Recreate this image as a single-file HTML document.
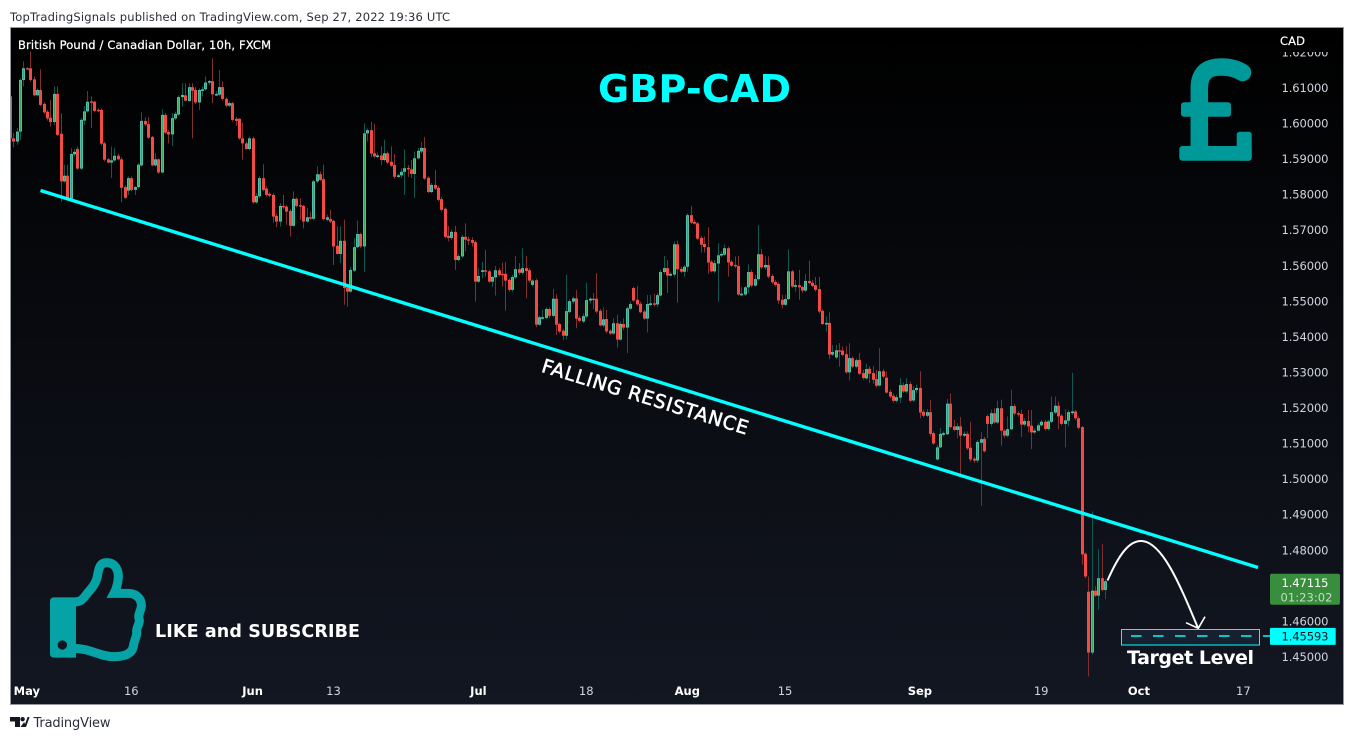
<!DOCTYPE html>
<html lang="en">
<head>
<meta charset="utf-8">
<title>GBP-CAD chart</title>
<style>
html,body{margin:0;padding:0;background:#fff;width:1354px;height:740px;overflow:hidden}
svg{display:block}
text{font-family:"DejaVu Sans","Liberation Sans",sans-serif}
</style>
</head>
<body>
<svg id="chart" xmlns="http://www.w3.org/2000/svg" width="1354" height="740" viewBox="0 0 1354 740">
  <defs>
    <linearGradient id="bgGrad" x1="0" y1="0" x2="0" y2="1">
      <stop offset="0" stop-color="#000000"/>
      <stop offset="1" stop-color="#131722"/>
    </linearGradient>
    <clipPath id="plotClip"><rect x="11" y="28" width="1250" height="650"/></clipPath>
    <clipPath id="axisClip"><rect x="1270" y="52" width="72" height="625"/></clipPath>
  </defs>
  <text x="10" y="21" font-size="11.5" fill="#2a2e39" textLength="440">TopTradingSignals published on TradingView.com, Sep 27, 2022 19:36 UTC</text>
  <rect x="10.5" y="27.5" width="1333" height="677" fill="url(#bgGrad)" stroke="#9598a1" stroke-width="1"/>
  <g id="grid" clip-path="url(#plotClip)"></g>
  <line x1="40.5" y1="190.5" x2="1258" y2="567.5" stroke="#00ffff" stroke-width="3.4"/>
  <text transform="translate(540.5 371.5) rotate(17.1)" font-size="19" fill="#ffffff" stroke="#ffffff" stroke-width="0.55" textLength="215">FALLING RESISTANCE</text>
  <text x="18" y="49" font-size="11.5" fill="#ffffff" stroke="#ffffff" stroke-width="0.25" textLength="253">British Pound / Canadian Dollar, 10h, FXCM</text>
  <text x="598" y="102" font-size="38" font-weight="bold" fill="#00ffff" textLength="193">GBP-CAD</text>
  <g fill="#009999">
    <path d="M1199.3 150 L1199.3 88 C1199.3 70 1211 67 1221 67 C1230 67 1237 69 1242.5 72.5" fill="none" stroke="#009999" stroke-width="17.5" stroke-linecap="round"/>
    <rect x="1181" y="102.3" width="50" height="14.4" rx="3"/>
    <rect x="1179.3" y="146" width="72.4" height="14.8" rx="3"/>
    <rect x="1236.7" y="131.7" width="15" height="29" rx="3"/>
  </g>
  <g transform="translate(0 540) scale(0.3333)">
    <path fill-rule="evenodd" fill="#05a3a6" d="M162 172 H228 V353 H162 Q150 353 150 341 V184 Q150 172 162 172 Z M187 301 A14 14 0 1 0 187 329 A14 14 0 1 0 187 301 Z"/>
    <path d="M222 186 C245 186 250 175 262 160 C275 145 288 130 292 110 C296 85 300 68 320 68 C345 68 356 90 355 112 C354 130 350 145 342 160 L385 160 C412 160 426 180 424 200 C422 215 412 225 418 240 C420 250 408 265 410 275 C412 290 402 300 400 320 C396 340 375 350 340 350 C300 350 270 325 222 325" fill="none" stroke="#05a3a6" stroke-width="27"/>
  </g>
  <text x="155" y="637" font-size="17.5" font-weight="bold" fill="#ffffff" textLength="205">LIKE and SUBSCRIBE</text>
  <path d="M1107.5 580.5 C1120 552 1130 541 1141 541 C1162 541 1180 585 1198 628" fill="none" stroke="#ffffff" stroke-width="2"/>
  <path d="M1186 622.7 L1198.3 628.3 L1205 616.7" fill="none" stroke="#ffffff" stroke-width="1.6"/>
  <rect x="1121.5" y="629.5" width="138" height="15.5" fill="#16202f" stroke="#00ffff" stroke-width="1"/>
  <line x1="1131" y1="636" x2="1270" y2="636" stroke="#00ffff" stroke-width="1.5" stroke-dasharray="10.5 11.5"/>
  <text x="1127" y="664" font-size="19" font-weight="bold" fill="#ffffff" textLength="127">Target Level</text>
  <text x="1280" y="45" font-size="11.5" fill="#ffffff" stroke="#ffffff" stroke-width="0.2" textLength="25">CAD</text>
  <g id="priceAxis" clip-path="url(#axisClip)"></g>
  <g id="timeAxis"></g>
  <g id="lastPriceTag"></g>
  <g id="targetTag"></g>
  <g>
    <path d="M10 717 H20 V727 H15 V721.5 H10 Z" fill="#131722"/>
    <circle cx="22.6" cy="719.2" r="2.2" fill="#131722"/>
    <path d="M24 727 L27.6 717 H29.6 L26 727 Z M20.6 727 L24.2 722 L26 727 Z" fill="#131722"/>
    <text x="33.5" y="727" font-size="13" fill="#2a2e39" textLength="77">TradingView</text>
  </g>
</svg>
<script>
const opens=[1.6075,1.5957,1.5948,1.5976,1.6121,1.6154,1.6154,1.6123,1.6078,1.6093,
1.6054,1.6032,1.6015,1.6003,1.6082,1.5970,1.5836,1.5852,1.5787,1.5912,
1.5927,1.5872,1.6007,1.6033,1.6061,1.6060,1.6037,1.6037,1.5943,1.5898,
1.5889,1.5895,1.5908,1.5898,1.5820,1.5810,1.5845,1.5812,1.5820,1.5881,
1.6006,1.5997,1.5961,1.5881,1.5898,1.5861,1.6023,1.5975,1.5968,1.6013,
1.6024,1.6073,1.6078,1.6062,1.6101,1.6093,1.6058,1.6092,1.6095,1.6114,
1.6118,1.6080,1.6080,1.6101,1.6068,1.6049,1.6056,1.6012,1.6012,1.5957,
1.5943,1.5927,1.5957,1.5777,1.5794,1.5845,1.5816,1.5801,1.5798,1.5739,
1.5723,1.5767,1.5765,1.5753,1.5711,1.5787,1.5769,1.5767,1.5723,1.5735,
1.5731,1.5836,1.5856,1.5842,1.5728,1.5730,1.5725,1.5655,1.5632,1.5669,
1.5538,1.5526,1.5585,1.5651,1.5688,1.5653,1.5971,1.5980,1.5915,1.5906,
1.5909,1.5896,1.5915,1.5891,1.5882,1.5849,1.5853,1.5863,1.5874,1.5870,
1.5857,1.5901,1.5920,1.5930,1.5846,1.5806,1.5826,1.5818,1.5786,1.5759,
1.5683,1.5677,1.5694,1.5615,1.5625,1.5680,1.5673,1.5671,1.5665,1.5554,
1.5582,1.5586,1.5583,1.5554,1.5566,1.5586,1.5576,1.5576,1.5559,1.5531,
1.5566,1.5589,1.5579,1.5592,1.5586,1.5545,1.5558,1.5433,1.5451,1.5452,
1.5477,1.5458,1.5506,1.5435,1.5416,1.5402,1.5469,1.5498,1.5507,1.5452,
1.5442,1.5456,1.5501,1.5506,1.5506,1.5472,1.5431,1.5449,1.5416,1.5408,
1.5437,1.5391,1.5435,1.5425,1.5478,1.5536,1.5503,1.5492,1.5470,1.5450,
1.5491,1.5493,1.5490,1.5515,1.5581,1.5592,1.5571,1.5574,1.5659,1.5590,
1.5582,1.5596,1.5741,1.5722,1.5718,1.5677,1.5660,1.5651,1.5610,1.5583,
1.5605,1.5628,1.5630,1.5648,1.5610,1.5601,1.5598,1.5518,1.5518,1.5538,
1.5581,1.5543,1.5561,1.5631,1.5594,1.5601,1.5570,1.5553,1.5548,1.5503,
1.5489,1.5505,1.5583,1.5540,1.5544,1.5539,1.5529,1.5556,1.5551,1.5544,
1.5533,1.5472,1.5435,1.5438,1.5349,1.5341,1.5361,1.5360,1.5350,1.5299,
1.5339,1.5315,1.5334,1.5297,1.5282,1.5309,1.5297,1.5280,1.5262,1.5302,
1.5284,1.5244,1.5233,1.5219,1.5228,1.5263,1.5245,1.5266,1.5220,1.5249,
1.5255,1.5188,1.5177,1.5187,1.5128,1.5054,1.5088,1.5124,1.5125,1.5211,
1.5147,1.5137,1.5147,1.5121,1.5126,1.5087,1.5056,1.5051,1.5101,1.5112,
1.5176,1.5154,1.5184,1.5158,1.5198,1.5135,1.5121,1.5139,1.5204,1.5184,
1.5182,1.5152,1.5162,1.5149,1.5130,1.5135,1.5150,1.5160,1.5140,1.5160,
1.5186,1.5205,1.5177,1.5154,1.5163,1.5186,1.5189,1.5170,1.5145,1.4789,
1.4682,1.4511,1.4685,1.4671,1.4720,1.4687];
const closes=[1.5957,1.5948,1.5976,1.6121,1.6154,1.6151,1.6121,1.6078,1.6093,1.6051,
1.6030,1.6013,1.6003,1.6082,1.5967,1.5836,1.5852,1.5787,1.5913,1.5919,
1.5872,1.6009,1.6033,1.6060,1.6058,1.6034,1.6034,1.5942,1.5897,1.5889,
1.5895,1.5908,1.5898,1.5818,1.5790,1.5845,1.5812,1.5820,1.5883,1.6006,
1.5996,1.5959,1.5881,1.5898,1.5861,1.6023,1.5973,1.5968,1.6014,1.6026,
1.6073,1.6079,1.6063,1.6101,1.6091,1.6058,1.6093,1.6095,1.6114,1.6118,
1.6081,1.6082,1.6101,1.6068,1.6049,1.6056,1.6009,1.6006,1.5957,1.5943,
1.5927,1.5957,1.5777,1.5795,1.5845,1.5812,1.5798,1.5796,1.5737,1.5723,
1.5767,1.5763,1.5751,1.5711,1.5787,1.5767,1.5766,1.5723,1.5735,1.5731,
1.5836,1.5856,1.5840,1.5730,1.5735,1.5723,1.5653,1.5632,1.5669,1.5536,
1.5526,1.5587,1.5651,1.5688,1.5653,1.5971,1.5980,1.5914,1.5906,1.5909,
1.5896,1.5915,1.5889,1.5880,1.5849,1.5853,1.5863,1.5873,1.5870,1.5857,
1.5901,1.5922,1.5930,1.5844,1.5806,1.5826,1.5816,1.5784,1.5756,1.5680,
1.5677,1.5694,1.5615,1.5626,1.5680,1.5672,1.5669,1.5663,1.5554,1.5570,
1.5586,1.5582,1.5554,1.5567,1.5586,1.5573,1.5573,1.5557,1.5531,1.5567,
1.5589,1.5579,1.5592,1.5584,1.5557,1.5557,1.5433,1.5454,1.5454,1.5477,
1.5458,1.5506,1.5433,1.5414,1.5402,1.5471,1.5499,1.5507,1.5450,1.5444,
1.5457,1.5502,1.5506,1.5503,1.5470,1.5431,1.5448,1.5414,1.5408,1.5437,
1.5391,1.5435,1.5425,1.5479,1.5491,1.5501,1.5490,1.5468,1.5450,1.5491,
1.5493,1.5489,1.5516,1.5581,1.5592,1.5571,1.5576,1.5659,1.5589,1.5582,
1.5596,1.5741,1.5720,1.5717,1.5675,1.5658,1.5651,1.5608,1.5583,1.5606,
1.5628,1.5632,1.5648,1.5608,1.5599,1.5597,1.5518,1.5520,1.5538,1.5581,
1.5543,1.5561,1.5631,1.5594,1.5601,1.5568,1.5552,1.5545,1.5501,1.5489,
1.5505,1.5583,1.5540,1.5544,1.5538,1.5529,1.5556,1.5550,1.5542,1.5531,
1.5470,1.5435,1.5438,1.5349,1.5356,1.5361,1.5358,1.5348,1.5299,1.5339,
1.5315,1.5333,1.5295,1.5283,1.5308,1.5295,1.5278,1.5261,1.5302,1.5287,
1.5242,1.5231,1.5219,1.5229,1.5263,1.5245,1.5266,1.5219,1.5249,1.5255,
1.5186,1.5177,1.5187,1.5126,1.5099,1.5088,1.5126,1.5128,1.5211,1.5145,
1.5137,1.5147,1.5121,1.5126,1.5085,1.5054,1.5051,1.5103,1.5111,1.5077,
1.5154,1.5184,1.5158,1.5198,1.5135,1.5121,1.5139,1.5204,1.5183,1.5180,
1.5152,1.5162,1.5147,1.5130,1.5135,1.5150,1.5160,1.5140,1.5161,1.5187,
1.5205,1.5175,1.5154,1.5164,1.5187,1.5189,1.5170,1.5143,1.4787,1.4725,
1.4511,1.4685,1.4671,1.4720,1.4687,1.47115];
const highs=[1.6079,1.5972,1.5986,1.6126,1.6173,1.6157,1.6201,1.6131,1.6098,1.6151,
1.6058,1.6037,1.6065,1.6103,1.6103,1.6028,1.5883,1.5883,1.5929,1.5927,
1.5934,1.6014,1.6048,1.6090,1.6075,1.6063,1.6042,1.6041,1.5948,1.5902,
1.5934,1.5929,1.5913,1.5904,1.5825,1.5850,1.5850,1.5823,1.5887,1.6030,
1.6016,1.6016,1.5964,1.5915,1.5901,1.6039,1.6028,1.5981,1.6028,1.6032,
1.6078,1.6112,1.6112,1.6112,1.6112,1.6101,1.6098,1.6103,1.6131,1.6121,
1.6182,1.6089,1.6150,1.6117,1.6072,1.6061,1.6060,1.6017,1.6014,1.6000,
1.5948,1.5962,1.5962,1.5803,1.5850,1.5884,1.5822,1.5805,1.5803,1.5745,
1.5775,1.5798,1.5770,1.5758,1.5808,1.5791,1.5789,1.5770,1.5761,1.5751,
1.5840,1.5878,1.5864,1.5883,1.5742,1.5756,1.5728,1.5709,1.5709,1.5728,
1.5540,1.5596,1.5676,1.5726,1.5692,1.5999,1.5985,1.6003,1.5998,1.5917,
1.5934,1.5953,1.5920,1.5934,1.5913,1.5857,1.5873,1.5926,1.5882,1.5896,
1.5920,1.5929,1.5947,1.5960,1.5850,1.5831,1.5868,1.5823,1.5793,1.5763,
1.5711,1.5700,1.5711,1.5632,1.5686,1.5718,1.5681,1.5679,1.5670,1.5592,
1.5609,1.5643,1.5587,1.5570,1.5598,1.5592,1.5608,1.5610,1.5564,1.5573,
1.5626,1.5606,1.5648,1.5626,1.5592,1.5561,1.5563,1.5458,1.5475,1.5482,
1.5482,1.5534,1.5519,1.5439,1.5420,1.5573,1.5505,1.5512,1.5531,1.5458,
1.5465,1.5551,1.5510,1.5522,1.5578,1.5477,1.5482,1.5475,1.5420,1.5451,
1.5461,1.5442,1.5451,1.5484,1.5498,1.5540,1.5542,1.5498,1.5475,1.5517,
1.5517,1.5520,1.5522,1.5587,1.5626,1.5615,1.5580,1.5667,1.5669,1.5596,
1.5601,1.5746,1.5767,1.5728,1.5722,1.5683,1.5681,1.5707,1.5615,1.5615,
1.5662,1.5639,1.5658,1.5653,1.5615,1.5625,1.5627,1.5539,1.5542,1.5603,
1.5587,1.5573,1.5713,1.5645,1.5625,1.5625,1.5576,1.5559,1.5552,1.5517,
1.5517,1.5645,1.5587,1.5559,1.5587,1.5542,1.5576,1.5613,1.5559,1.5567,
1.5567,1.5477,1.5456,1.5468,1.5376,1.5376,1.5381,1.5372,1.5372,1.5381,
1.5344,1.5338,1.5353,1.5306,1.5323,1.5316,1.5316,1.5306,1.5367,1.5308,
1.5301,1.5250,1.5239,1.5236,1.5283,1.5270,1.5283,1.5273,1.5259,1.5264,
1.5302,1.5194,1.5196,1.5222,1.5133,1.5095,1.5142,1.5133,1.5224,1.5239,
1.5166,1.5156,1.5173,1.5133,1.5133,1.5160,1.5062,1.5109,1.5131,1.5117,
1.5180,1.5194,1.5198,1.5219,1.5222,1.5140,1.5175,1.5250,1.5210,1.5189,
1.5194,1.5170,1.5193,1.5193,1.5142,1.5156,1.5165,1.5165,1.5165,1.5231,
1.5231,1.5217,1.5182,1.5195,1.5193,1.5298,1.5193,1.5175,1.5148,1.4792,
1.4725,1.4908,1.4697,1.4802,1.4817,1.4716];
const lows=[1.5953,1.5932,1.5939,1.5952,1.6103,1.6150,1.6117,1.6075,1.6075,1.6048,
1.6026,1.6007,1.5990,1.5995,1.5964,1.5779,1.5831,1.5782,1.5782,1.5906,
1.5868,1.5868,1.5995,1.6030,1.5986,1.6030,1.6030,1.5938,1.5892,1.5887,
1.5845,1.5891,1.5895,1.5777,1.5786,1.5798,1.5808,1.5798,1.5816,1.5878,
1.5992,1.5955,1.5878,1.5878,1.5857,1.5859,1.5970,1.5943,1.5936,1.6009,
1.6020,1.6046,1.6061,1.6060,1.5957,1.6054,1.6037,1.6075,1.6091,1.6107,
1.6056,1.6076,1.6075,1.6063,1.6044,1.6045,1.6004,1.5992,1.5953,1.5897,
1.5925,1.5923,1.5773,1.5773,1.5789,1.5808,1.5793,1.5791,1.5720,1.5707,
1.5709,1.5758,1.5714,1.5681,1.5709,1.5763,1.5728,1.5704,1.5720,1.5728,
1.5726,1.5831,1.5837,1.5726,1.5723,1.5719,1.5601,1.5630,1.5606,1.5489,
1.5484,1.5523,1.5581,1.5648,1.5648,1.5582,1.5948,1.5904,1.5901,1.5901,
1.5882,1.5892,1.5885,1.5876,1.5844,1.5846,1.5845,1.5798,1.5848,1.5845,
1.5790,1.5898,1.5915,1.5840,1.5803,1.5803,1.5812,1.5780,1.5751,1.5676,
1.5667,1.5671,1.5587,1.5611,1.5621,1.5639,1.5657,1.5653,1.5498,1.5551,
1.5564,1.5568,1.5550,1.5540,1.5515,1.5568,1.5540,1.5473,1.5526,1.5526,
1.5561,1.5573,1.5573,1.5507,1.5551,1.5540,1.5426,1.5430,1.5447,1.5448,
1.5451,1.5454,1.5404,1.5409,1.5390,1.5392,1.5465,1.5492,1.5423,1.5439,
1.5437,1.5451,1.5493,1.5477,1.5465,1.5428,1.5426,1.5409,1.5404,1.5404,
1.5369,1.5388,1.5418,1.5353,1.5475,1.5497,1.5486,1.5465,1.5447,1.5411,
1.5486,1.5484,1.5482,1.5512,1.5576,1.5522,1.5568,1.5568,1.5495,1.5578,
1.5568,1.5582,1.5717,1.5714,1.5672,1.5636,1.5636,1.5576,1.5580,1.5578,
1.5498,1.5623,1.5627,1.5568,1.5595,1.5592,1.5514,1.5514,1.5514,1.5522,
1.5538,1.5540,1.5557,1.5589,1.5587,1.5563,1.5548,1.5540,1.5492,1.5479,
1.5486,1.5503,1.5537,1.5526,1.5503,1.5522,1.5525,1.5546,1.5539,1.5526,
1.5465,1.5432,1.5414,1.5336,1.5345,1.5336,1.5315,1.5344,1.5295,1.5276,
1.5311,1.5311,1.5291,1.5278,1.5278,1.5269,1.5267,1.5257,1.5259,1.5283,
1.5239,1.5226,1.5214,1.5214,1.5212,1.5241,1.5241,1.5214,1.5216,1.5241,
1.5170,1.5173,1.5173,1.5119,1.5095,1.5051,1.5086,1.5119,1.5122,1.5141,
1.5133,1.5114,1.5011,1.5117,1.5081,1.5048,1.5044,1.5044,1.4923,1.5074,
1.5114,1.5147,1.5154,1.5154,1.5093,1.5115,1.5116,1.5136,1.5178,1.5175,
1.5117,1.5147,1.5130,1.5083,1.5126,1.5133,1.5147,1.5135,1.5135,1.5156,
1.5182,1.5139,1.5150,1.5088,1.5147,1.5179,1.5165,1.5139,1.4758,1.4720,
1.4444,1.4505,1.4667,1.4631,1.4683,1.4661];

const priceTicks=[1.62,1.61,1.60,1.59,1.58,1.57,1.56,1.55,1.54,1.53,1.52,1.51,1.50,1.49,1.48,1.46,1.45];
const timeLabels=["May","16","Jun","13","Jul","18","Aug","15","Sep","19","Oct","17"];
const timeBars=[5,36,72,96,139,171,201,230,270,306,335,366];
const monthLabels=["May","Jun","Jul","Aug","Sep","Oct"];
const lastPrice=1.47115;
const countdownText="01:23:02";
const targetPrice=1.45593;

const SVGNS="http://www.w3.org/2000/svg";
function xScale(i){return 9.96+3.37*i;}
function yScale(p){return 87.5+(1.61-p)*3556;}
function make(tag,attrs,parent){
  const el=document.createElementNS(SVGNS,tag);
  for(const k in attrs){el.setAttribute(k,attrs[k]);}
  parent.appendChild(el);
  return el;
}

const candlesLayer=document.getElementById("grid");
opens.forEach(function(o,i){
  const c=closes[i];
  const up=c>=o;
  const cx=Math.round(xScale(i));
  const g=make("g",{},candlesLayer);
  
  
  const wick=make("line",{x1:cx+0.5,x2:cx+0.5,y1:yScale(highs[i]),y2:yScale(lows[i]),stroke:up?"#0f5a50":"#80302f","stroke-width":1},g);
  
  
  const top=yScale(Math.max(o,c));
  const bot=yScale(Math.min(o,c));
  const h=Math.max(bot-top,1.4);
  let body;
  if(up){
    body=make("rect",{x:cx-0.5,y:top+0.5,width:2,height:Math.max(h-1,0.6),fill:"#35a860",stroke:"#4fbfa8","stroke-width":1},g);
  }else{
    body=make("rect",{x:cx-1,y:top,width:3,height:h,fill:"#f44a45"},g);
  }
  
  
});

const priceAxis=document.getElementById("priceAxis");
priceTicks.forEach(function(p){
  const t=make("text",{x:1281.5,y:yScale(p)+4.5,"font-size":11.5,fill:"#d1d4dc",textLength:47},priceAxis);
  
  
  t.textContent=p.toFixed(5);
});

const timeAxis=document.getElementById("timeAxis");
timeLabels.forEach(function(label,i){
  const bold=monthLabels.indexOf(label)>=0;
  const t=make("text",{x:xScale(timeBars[i]),y:695,"font-size":11.5,"text-anchor":"middle",fill:bold?"#ffffff":"#d1d4dc","font-weight":bold?"bold":"normal"},timeAxis);
  
  
  t.textContent=label;
});

const lastTag=document.getElementById("lastPriceTag");
const lastY=yScale(lastPrice);
const lastRect=make("rect",{x:1270,y:lastY-7.5,width:70,height:31,rx:2,fill:"#388e3c"},lastTag);


const lastText=make("text",{x:1281.5,y:lastY+5.5,"font-size":11.5,fill:"#ffffff",textLength:47},lastTag);


lastText.textContent=lastPrice.toFixed(5);
const cdText=make("text",{x:1280.5,y:lastY+20,"font-size":11.5,fill:"#c4dcc6",textLength:52},lastTag);


cdText.textContent=countdownText;

const targetTag=document.getElementById("targetTag");
const tY=yScale(targetPrice);
const tRect=make("rect",{x:1270,y:tY-7.5,width:65.7,height:17,rx:1,fill:"#00ffff"},targetTag);


const tText=make("text",{x:1281.5,y:tY+5,"font-size":11.5,fill:"#131722",textLength:47},targetTag);


tText.textContent=targetPrice.toFixed(5);
</script>
</body>
</html>
